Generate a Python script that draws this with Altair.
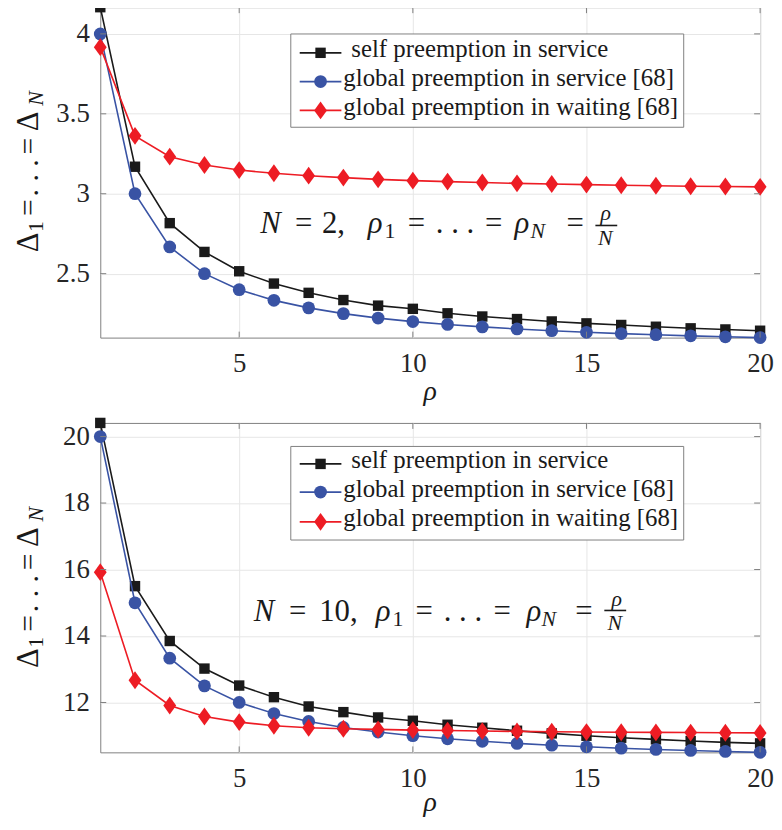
import altair as alt
import pandas as pd

# ---------------- data ----------------
rho = list(range(1, 21))

top_self = [4.167, 3.169, 2.816, 2.636, 2.515, 2.438, 2.380, 2.335, 2.300, 2.280,
            2.252, 2.232, 2.216, 2.201, 2.189, 2.179, 2.168, 2.158, 2.151, 2.143]
top_service = [4.0, 3.0, 2.667, 2.5, 2.4, 2.333, 2.286, 2.25, 2.222, 2.2,
               2.182, 2.167, 2.154, 2.143, 2.133, 2.125, 2.118, 2.111, 2.105, 2.1]
top_waiting = [3.917, 3.362, 3.232, 3.180, 3.148, 3.128, 3.113, 3.101, 3.090, 3.082,
               3.076, 3.070, 3.065, 3.061, 3.057, 3.053, 3.050, 3.047, 3.045, 3.043]

bot_self = [20.41, 15.5, 13.85, 13.02, 12.51, 12.16, 11.88, 11.71, 11.55, 11.45,
            11.33, 11.24, 11.15, 11.07, 11.0, 10.94, 10.89, 10.84, 10.80, 10.77]
bot_service = [20.0, 15.0, 13.333, 12.5, 12.0, 11.667, 11.429, 11.25, 11.111, 11.0,
               10.909, 10.833, 10.769, 10.714, 10.667, 10.625, 10.588, 10.556, 10.526, 10.5]
bot_waiting = [15.92, 12.67, 11.91, 11.58, 11.41, 11.30, 11.24, 11.21, 11.19, 11.17,
               11.155, 11.14, 11.13, 11.12, 11.11, 11.105, 11.10, 11.095, 11.09, 11.085]

series_names = ["self preemption in service",
                "global preemption in service [68]",
                "global preemption in waiting [68]"]

x_ticks = [5, 10, 15, 20]
top_y_ticks = [2.5, 3, 3.5, 4]
bot_y_ticks = [12, 14, 16, 18, 20]
top_y_domain = [2.1, 4.167]
bot_y_domain = [10.5, 20.41]

# ---------------- styles ----------------
colors = ["#1a1a1a", "#3953a4", "#ed1c24"]
shapes = ["square", "circle", "M0,-1L0.72,0L0,1L-0.72,0Z"]
sizes = [110, 165, 324]
FONT = "Liberation Serif"
FRAME = "#808080"
W = 665
H_TOP = 333
H_BOT = 332
TICK_LEN = 6

xs = alt.Scale(domain=[1, 20], nice=False, zero=False)


def x_axis():
    return alt.Axis(values=x_ticks, title=None, labelFont=FONT, labelFontSize=27,
                    labelColor="#262626", labelPadding=13, ticks=False, domain=False,
                    grid=True, gridColor="#e6e6e6", gridWidth=1, labelFlush=False,
                    format="~g")


def y_axis(vals):
    return alt.Axis(values=vals, title=None, labelFont=FONT, labelFontSize=27,
                    labelColor="#262626", labelPadding=11, ticks=False, domain=False,
                    grid=True, gridColor="#e6e6e6", gridWidth=1, labelFlush=False,
                    format="~g")


def text_layers(pieces):
    """pieces: list of (label, px, py, size, italic, angle, align)"""
    df = pd.DataFrame(pieces, columns=["label", "px", "py", "fs", "it", "ang", "al"])
    df["grp"] = df.apply(lambda r: f"{r.fs}_{r.it}_{r.ang}_{r.al}", axis=1)
    out = []
    for g in df["grp"].unique():
        sub = df[df["grp"] == g]
        r0 = sub.iloc[0]
        props = dict(font=FONT, fontSize=int(r0.fs), align=r0.al, baseline="alphabetic",
                     color="#1a1a1a", angle=int(r0.ang))
        if r0.it:
            props["fontStyle"] = "italic"
        out.append(alt.Chart(sub[["label", "px", "py"]]).mark_text(**props).encode(
            x=alt.X("px:Q", scale=None),
            y=alt.Y("py:Q", scale=None),
            text="label:N"))
    return out


def panel(vals, ydomain, yticks, H, legend_box, legend_rows, annot, frac_bar, xtitle_y):
    df = pd.concat([pd.DataFrame({"rho": rho, "value": v, "series": n})
                    for v, n in zip(vals, series_names)], ignore_index=True)
    ys = alt.Scale(domain=ydomain, nice=False, zero=False)
    layers = []
    base = alt.Chart(df)
    for i, n in enumerate(series_names):
        sub = base.transform_filter(alt.datum.series == n)
        layers.append(sub.mark_line(color=colors[i], strokeWidth=1.6).encode(
            x=alt.X("rho:Q", scale=xs, axis=x_axis()),
            y=alt.Y("value:Q", scale=ys, axis=y_axis(yticks))))
        layers.append(sub.mark_point(filled=True, opacity=1, shape=shapes[i], size=sizes[i],
                                     color=colors[i], strokeWidth=0).encode(
            x=alt.X("rho:Q", scale=xs, axis=x_axis()),
            y=alt.Y("value:Q", scale=ys, axis=y_axis(yticks))))

    # inward ticks on all four sides
    xt = alt.Chart(pd.DataFrame({"t": x_ticks}))
    yt = alt.Chart(pd.DataFrame({"t": yticks}))
    layers.append(xt.mark_rule(color=FRAME, strokeWidth=1).encode(
        x=alt.X("t:Q", scale=xs, axis=x_axis()), y=alt.value(H - TICK_LEN), y2=alt.value(H)))
    layers.append(xt.mark_rule(color=FRAME, strokeWidth=1).encode(
        x=alt.X("t:Q", scale=xs, axis=x_axis()), y=alt.value(0), y2=alt.value(TICK_LEN)))
    layers.append(yt.mark_rule(color=FRAME, strokeWidth=1).encode(
        y=alt.Y("t:Q", scale=ys, axis=y_axis(yticks)), x=alt.value(0), x2=alt.value(TICK_LEN)))
    layers.append(yt.mark_rule(color=FRAME, strokeWidth=1).encode(
        y=alt.Y("t:Q", scale=ys, axis=y_axis(yticks)), x=alt.value(W - TICK_LEN), x2=alt.value(W)))

    # legend box
    bx = pd.DataFrame([legend_box], columns=["x1", "x2", "y1", "y2"])
    layers.append(alt.Chart(bx).mark_rect(fill="white", stroke=FRAME, strokeWidth=1).encode(
        x=alt.X("x1:Q", scale=None), x2="x2:Q", y=alt.Y("y1:Q", scale=None), y2="y2:Q"))
    leg = pd.DataFrame({"series": series_names, "ly": legend_rows,
                        "lx1": [201] * 3, "lx2": [243] * 3, "mx": [222] * 3,
                        "tx": [253, 245, 245], "ty": [r + 4.5 for r in legend_rows]})
    for i, n in enumerate(series_names):
        sub = alt.Chart(leg).transform_filter(alt.datum.series == n)
        layers.append(sub.mark_rule(color=colors[i], strokeWidth=1.6).encode(
            x=alt.X("lx1:Q", scale=None), x2="lx2:Q", y=alt.Y("ly:Q", scale=None)))
        layers.append(sub.mark_point(filled=True, opacity=1, shape=shapes[i], size=sizes[i],
                                     color=colors[i], strokeWidth=0).encode(
            x=alt.X("mx:Q", scale=None), y=alt.Y("ly:Q", scale=None)))
        layers.append(sub.mark_text(font=FONT, fontSize=25, align="left", baseline="alphabetic",
                                    color="#1a1a1a").encode(
            x=alt.X("tx:Q", scale=None), y=alt.Y("ty:Q", scale=None), text="series:N"))

    # fraction bar
    fb = pd.DataFrame([frac_bar], columns=["x1", "x2", "y"])
    layers.append(alt.Chart(fb).mark_rule(color="#1a1a1a", strokeWidth=1.6).encode(
        x=alt.X("x1:Q", scale=None), x2="x2:Q", y=alt.Y("y:Q", scale=None)))

    # y title (rotated) and x title
    ytitle = [
        ("Δ", 237, 31), ("1", 221, 22), ("=", 202, 30), (". . .", 172, 30),
        ("=", 140, 30), ("Δ", 115, 31), ("N", 92, 22)]
    pieces = list(annot)
    for lab, py, fs in ytitle:
        bxx = -58 if fs == 22 else -63
        pieces.append((lab, bxx, py, fs, lab == "N", 270, "center"))
    pieces.append(("ρ", 332.5, xtitle_y, 28, True, 0, "center"))
    layers += text_layers(pieces)

    return alt.layer(*layers).properties(width=W, height=H)


def annot_pieces(ntext, c, base, sub, fr_num_y, fr_den_y):
    M, S = 31, 22
    return [
        ("N", c["N"], base, M, True, 0, "center"),
        ("=", c["eq1"], base, M, False, 0, "center"),
        (ntext, c["num"], base, M, False, 0, "center"),
        ("ρ", c["rho1"], base, M, True, 0, "center"),
        ("1", c["s1"], sub, S, False, 0, "center"),
        ("=", c["eq2"], base, M, False, 0, "center"),
        (". . .", c["dots"], base, M, False, 0, "center"),
        ("=", c["eq3"], base, M, False, 0, "center"),
        ("ρ", c["rhoN"], base, M, True, 0, "center"),
        ("N", c["sN"], sub, S, True, 0, "center"),
        ("=", c["eq4"], base, M, False, 0, "center"),
        ("ρ", c["fnum"], fr_num_y, S, True, 0, "center"),
        ("N", c["fden"], fr_den_y, S, True, 0, "center"),
    ]


top_annot = annot_pieces("2,", dict(N=171.5, eq1=205, num=235, rho1=277, s1=292, eq2=318.5,
                                    dots=357.5, eq3=396.5, rhoN=425, sN=441, eq4=478.5,
                                    fnum=509.5, fden=509), 228, 233, 214.5, 240)
bot_annot = annot_pieces("10,", dict(N=165, eq1=199, num=240, rho1=285, s1=300, eq2=326.5,
                                     dots=365.5, eq3=405, rhoN=437, sN=452, eq4=487.5,
                                     fnum=520.5, fden=518.5), 199.7, 204.7, 184, 209)

top = panel([top_self, top_service, top_waiting], top_y_domain, top_y_ticks, H_TOP,
            [192, 588, 27, 121], [46, 75, 104], top_annot, [499, 521, 220], 396)
bot = panel([bot_self, bot_service, bot_waiting], bot_y_domain, bot_y_ticks, H_BOT,
            [192, 588, 23.7, 118], [41.3, 69.7, 99.7], bot_annot, [508, 530, 189], 391)

chart = alt.vconcat(top, bot, spacing=86, bounds="flush").configure_view(
    stroke=FRAME, strokeWidth=1).properties(
    padding={"left": 4, "top": -10, "right": 0, "bottom": 0})

chart.save("out.html", embed_options={"renderer": "svg", "actions": False})
